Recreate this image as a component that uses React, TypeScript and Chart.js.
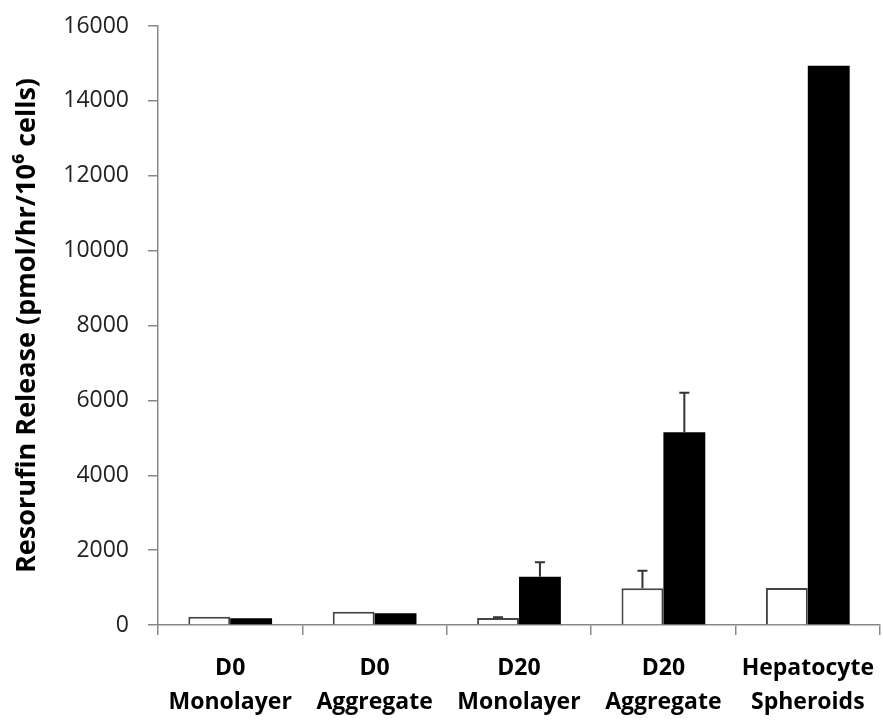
import React, { useEffect, useRef } from "react";
import { Chart, registerables } from "chart.js";

Chart.register(...registerables);

const categories: string[][] = [
  ["D0", "Monolayer"],
  ["D0", "Aggregate"],
  ["D20", "Monolayer"],
  ["D20", "Aggregate"],
  ["Hepatocyte", "Spheroids"],
];

const openValues = [220, 355, 185, 980, 990];
const openErrors = [0, 0, 20, 470, 0];
const filledValues = [177, 312, 1290, 5146, 14940];
const filledErrors = [0, 0, 387, 1060, 0];

const yTickMin = 0;
const yTickMax = 16000;
const yTickStep = 2000;

const FONT = "'Open Sans', 'DejaVu Sans', sans-serif";

// Draws one-sided (upward) error bars on top of each bar.
const errorBarPlugin = {
  id: "errorBars",
  afterDatasetsDraw(chart: any) {
    const ctx = chart.ctx;
    const yScale = chart.scales.y;
    chart.data.datasets.forEach((ds: any, i: number) => {
      const errs: number[] = ds.errors || [];
      const meta = chart.getDatasetMeta(i);
      meta.data.forEach((bar: any, j: number) => {
        const err = errs[j];
        if (!err) return;
        const v = ds.data[j] as number;
        const yTop = yScale.getPixelForValue(v + err);
        const yBase = yScale.getPixelForValue(v);
        ctx.save();
        ctx.strokeStyle = "#333";
        ctx.lineWidth = 2;
        ctx.beginPath();
        ctx.moveTo(bar.x, yBase);
        ctx.lineTo(bar.x, yTop);
        ctx.moveTo(bar.x - 5, yTop);
        ctx.lineTo(bar.x + 5, yTop);
        ctx.stroke();
        ctx.restore();
      });
    });
  },
};

export default function App() {
  const canvasRef = useRef<HTMLCanvasElement | null>(null);

  useEffect(() => {
    if (!canvasRef.current) return;
    const chart = new Chart(canvasRef.current, {
      type: "bar",
      data: {
        labels: categories,
        datasets: [
          {
            label: "open",
            data: openValues,
            errors: openErrors,
            backgroundColor: "#ffffff",
            borderColor: "#444444",
            borderWidth: 2,
            borderSkipped: "bottom",
          } as any,
          {
            label: "filled",
            data: filledValues,
            errors: filledErrors,
            backgroundColor: "#000000",
            borderColor: "#000000",
            borderWidth: 0,
          } as any,
        ],
      },
      options: {
        responsive: false,
        animation: false,
        layout: { padding: { top: 26, right: 3, bottom: 0, left: 0 } },
        plugins: {
          legend: { display: false },
          tooltip: { enabled: false },
        },
        datasets: {
          bar: { categoryPercentage: 0.58, barPercentage: 1 },
        },
        scales: {
          x: {
            offset: true,
            grid: {
              display: true,
              drawOnChartArea: false,
              drawTicks: true,
              tickLength: 10,
              color: "#888888",
              lineWidth: 1.5,
              offset: true,
            },
            border: { display: true, color: "#888888", width: 1.5 },
            ticks: {
              color: "#000000",
              padding: 17,
              maxRotation: 0,
              autoSkip: false,
              font: { family: FONT, size: 23, weight: "bold", lineHeight: 1.45 },
            },
            afterFit(scale: any) {
              scale.height = 96;
              scale.paddingLeft = 0;
              scale.paddingRight = 0;
            },
          },
          y: {
            min: yTickMin,
            max: yTickMax,
            grid: {
              display: true,
              drawOnChartArea: false,
              drawTicks: true,
              tickLength: 10,
              color: "#888888",
              lineWidth: 1.5,
            },
            border: { display: true, color: "#888888", width: 1.5 },
            ticks: {
              stepSize: yTickStep,
              color: "#222222",
              padding: 19,
              font: { family: FONT, size: 23 },
              callback: (v: any) => String(v),
            },
            title: {
              display: true,
              text: "Resorufin Release (pmol/hr/10\u2076 cells)",
              color: "#000000",
              padding: { top: 11, bottom: 0 },
              font: { family: FONT, size: 27, weight: "bold", lineHeight: 1.2 },
            },
            afterFit(scale: any) {
              scale.width = 158;
              scale.paddingTop = 0;
              scale.paddingBottom = 0;
            },
          },
        },
      } as any,
      plugins: [errorBarPlugin],
    });
    return () => chart.destroy();
  }, []);

  return (
    <div style={{ position: "fixed", left: 0, top: 0, width: 883, height: 721, background: "#fff" }}>
      <canvas ref={canvasRef} width={883} height={721} />
    </div>
  );
}
